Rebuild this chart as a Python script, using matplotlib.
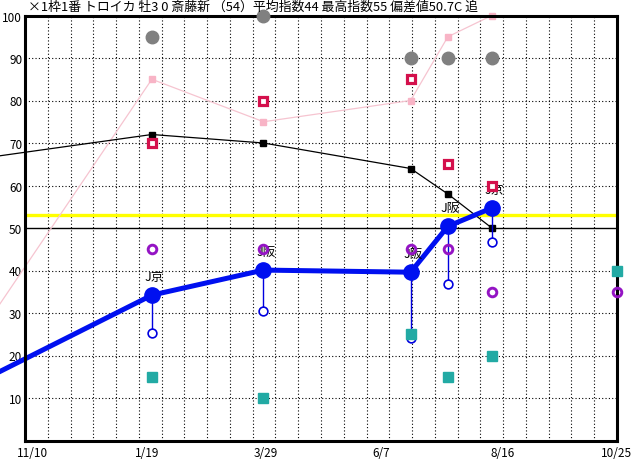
import numpy as np
import matplotlib
matplotlib.use("Agg")
import matplotlib.pyplot as plt
from matplotlib.transforms import ScaledTranslation

plt.rcParams['font.family'] = ['Noto Sans CJK JP', 'DejaVu Sans']

# ---- data ----
title = "×1枠1番 トロイカ 牡3 0 斎藤新 （54）平均指数44 最高指数55 偏差値50.7C 追"
origin = np.datetime64('2023-11-10')
x_end = np.datetime64('2024-10-25')
tick_labels = ["11/10", "1/19", "3/29", "6/7", "8/16", "10/25"]
tick_dates = ['2023-11-10', '2024-01-19', '2024-03-29', '2024-06-07', '2024-08-16', '2024-10-25']

prev_date = ['2023-10-03']
race_dates = ['2024-01-24', '2024-03-30', '2024-06-25', '2024-07-17', '2024-08-12']
next_date = ['2024-10-25']

blue_prev = [11.6]
black_prev = [65.7]
pink_prev = [18.5]

index_main = [34.2, 40.1, 39.6, 50.4, 54.7]      # blue thick line
index_low = [25.3, 30.4, 24.1, 36.8, 46.7]       # blue hollow circles
pace_line = [72, 70, 64, 58, 50]                 # black line
pink_line = [85, 75, 80, 95, 100]                # pink line
gray_pts = [95, 100, 90, 90, 90]
crimson_pts = [70, 80, 85, 65, 60]
purple_pts = [45, 45, 45, 45, 35]
teal_pts = [15, 10, 25, 15, 20]
purple_next = [35]
teal_next = [40]
race_labels = ["J京", "J阪", "J阪", "J阪", "J京"]

yellow_level = 53
base_level = 50
y_ticks = [10, 20, 30, 40, 50, 60, 70, 80, 90, 100]


def days(ds):
    return (np.array(ds, dtype='datetime64[D]') - origin).astype(int)


xr = days(race_dates)
xp = days(prev_date)
xn = days(next_date)
xmax = int((x_end - origin).astype(int))

W, H = 632, 460
fig = plt.figure(figsize=(W / 100, H / 100), dpi=100)
ax = fig.add_axes([25 / W, 1 - 441.5 / H, (617 - 25) / W, (441.5 - 16.5) / H])
ax.set_xlim(0, xmax)
ax.set_ylim(0, 100)

# grid
for v in np.linspace(0, xmax, 27)[1:-1]:
    ax.axvline(v, color='black', lw=0.8, ls=(0, (1, 2)), zorder=1)
for v in y_ticks[:-1]:
    if v != base_level:
        ax.axhline(v, color='black', lw=0.8, ls=(0, (1, 2)), zorder=1)
ax.axhline(base_level, color='black', lw=1.0, zorder=2)
ax.axhline(yellow_level, color='#ffff00', lw=2.4, zorder=2)

# lines (extend to previous race off chart)
ax.plot(np.r_[xp, xr], pink_prev + pink_line, color='#f6c4d0', lw=0.9,
        marker='s', ms=4.5, mfc='#f8b4c6', mec='#f8b4c6', zorder=3, clip_on=False)
ax.plot(np.r_[xp, xr], black_prev + pace_line, color='black', lw=0.9,
        marker='s', ms=4.5, mfc='black', mec='black', zorder=4, clip_on=False)

for x, hi, lo in zip(xr, index_main, index_low):
    ax.plot([x, x], [hi, lo], color='#0000e0', lw=1.0, zorder=5)
ax.plot(xr, index_low, 'o', ms=6.3, mfc='white', mec='#0000e0', mew=1.2, zorder=6)

ax.plot(np.r_[xp, xr], blue_prev + index_main, color='#0010f0', lw=3.6,
        zorder=7, clip_on=False, solid_capstyle='round')
ax.plot(xr, index_main, 'o', ms=11, color='#0010f0', zorder=8)

ax.plot(xr, gray_pts, 'o', ms=9, color='#808080', zorder=9, clip_on=False)

for x, y, lab in zip(xr, index_main, race_labels):
    tr = ax.transData + ScaledTranslation(-7 / 100, 19 / 100, fig.dpi_scale_trans)
    ax.text(x, y, lab, transform=tr, ha='left', va='center', fontsize=9, zorder=9)

ax.plot(np.r_[xr, xn], purple_pts + purple_next, 'o', ms=6.2, mfc='none',
        mec='#9414c4', mew=2.1, zorder=10, clip_on=False)
ax.plot(xr, crimson_pts, 's', ms=6.0, mfc='white', mec='#d4104c', mew=2.3, zorder=10)
ax.plot(np.r_[xr, xn], teal_pts + teal_next, 's', ms=6.5, color='#22aaa4', zorder=11,
        clip_on=False)

# axes styling
for s in ax.spines.values():
    s.set_linewidth(2.2)
    s.set_zorder(8.5)
ax.set_yticks(y_ticks)
ax.set_yticklabels([str(v) for v in y_ticks])
ax.set_xticks(days(tick_dates))
ax.set_xticklabels(tick_labels)
ax.tick_params(length=0, labelsize=8.5, pad=2)
ax.tick_params(axis='x', pad=4)
for i, lab in enumerate(ax.get_xticklabels()):
    if i == len(tick_labels) - 1:
        lab.set_ha('right')
        lab.set_transform(lab.get_transform() + ScaledTranslation(15 / 100, 0, fig.dpi_scale_trans))
    else:
        lab.set_ha('left')
        lab.set_transform(lab.get_transform() + ScaledTranslation(-8 / 100, 0, fig.dpi_scale_trans))

fig.text(28 / W, 1 - 7.5 / H, title, ha='left', va='center', fontsize=9.3)

fig.savefig('out.png', dpi=100)
